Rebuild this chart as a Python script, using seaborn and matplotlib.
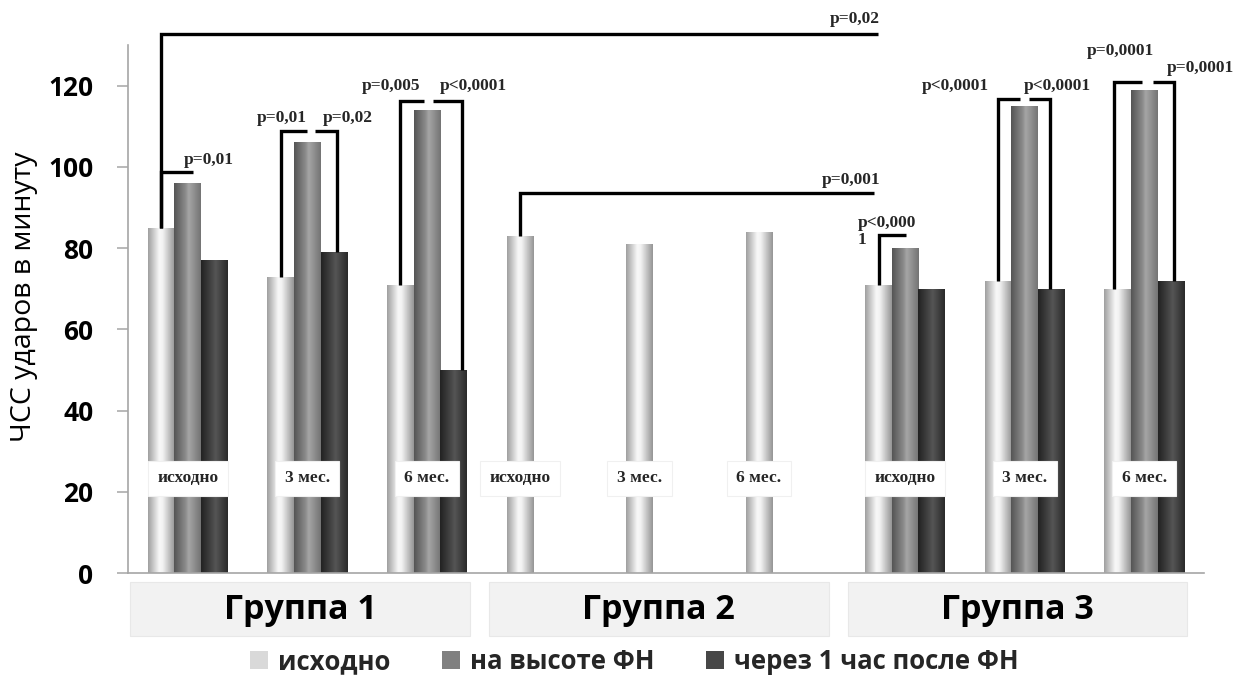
import numpy as np
import pandas as pd
import matplotlib
matplotlib.use("Agg")
import matplotlib.pyplot as plt
import seaborn as sns
from matplotlib.colors import LinearSegmentedColormap
from matplotlib.patches import Rectangle

# ---------------- data ----------------
groups = ["Группа 1", "Группа 2", "Группа 3"]
periods = ["исходно", "3 мес.", "6 мес."]
series = ["исходно", "на высоте ФН", "через 1 час после ФН"]
baseline = [85, 73, 71, 83, 81, 84, 71, 72, 70]
peak = [96, 106, 114, np.nan, np.nan, np.nan, 80, 115, 119]
after = [77, 79, 50, np.nan, np.nan, np.nan, 70, 70, 72]
y_ticks = [0, 20, 40, 60, 80, 100, 120]
y_label = "ЧСС ударов в минуту"
p_labels = ["p=0,02", "p=0,01", "p=0,01", "p=0,02", "p=0,005", "p<0,0001",
            "p=0,001", "p<0,000\n1", "p<0,0001", "p<0,0001", "p=0,0001", "p=0,0001"]

# ---------------- build table ----------------
slots = [f"{g}|{p}" for g in groups for p in periods]
rows = []
for i, s in enumerate(slots):
    for name, vals in zip(series, [baseline, peak, after]):
        if not np.isnan(vals[i]):
            rows.append({"slot": s, "series": name, "value": vals[i]})
df = pd.DataFrame(rows)

sns.set_theme(style="white")
plt.rcParams["font.family"] = ["Open Sans", "DejaVu Sans"]

W, H = 1241, 687
fig = plt.figure(figsize=(W / 100, H / 100), dpi=100)
ax = fig.add_axes([128 / W, 1 - 573 / H, (1204 - 128) / W, (573 - 45) / H])

solid = ["#d9d9d9", "#808080", "#474747"]
sns.barplot(data=df, x="slot", y="value", hue="series", order=slots,
            hue_order=series, palette=solid, width=0.667, gap=0,
            saturation=1, ax=ax, legend=True, linewidth=0)

# gradient shading of bars
grad_stops = [
    ["#a0a0a0", "#f8f8f8", "#f2f2f2", "#969696"],
    ["#555555", "#8a8a8a", "#a6a6a6", "#747474"],
    ["#222222", "#484848", "#555555", "#2a2a2a"],
]
grad = np.linspace(0, 1, 64)[np.newaxis, :]
for cont, stops in zip(ax.containers, grad_stops):
    cmap = LinearSegmentedColormap.from_list("g", list(zip([0, 0.42, 0.55, 1], stops)))
    for bar in cont:
        x0, w, h = bar.get_x(), bar.get_width(), bar.get_height()
        if not np.isfinite(h) or h == 0:
            continue
        im = ax.imshow(grad, extent=[x0, x0 + w, 0, h], aspect="auto", cmap=cmap,
                       zorder=bar.get_zorder() + 0.1, interpolation="bilinear")
        im.set_clip_path(bar)

ax.set_xlim(-0.5, 8.5)
ax.set_ylim(0, 130)
ax.set_aspect("auto")

# axes styling
for side in ["top", "right"]:
    ax.spines[side].set_visible(False)
for side in ["left", "bottom"]:
    ax.spines[side].set_color("#a6a6a6")
    ax.spines[side].set_linewidth(1.2)
ax.set_xticks([])
ax.set_xlabel("")
ax.set_yticks(y_ticks)
ax.set_yticklabels([str(t) for t in y_ticks])
ax.tick_params(axis="y", left=True, length=8, width=1.1, color="#a6a6a6",
               pad=17, labelsize=19, labelcolor="black")
for lbl in ax.get_yticklabels():
    lbl.set_fontweight("bold")
ax.set_ylabel(y_label, fontsize=20.5, color="black", fontweight="medium")
ax.yaxis.set_label_coords(-0.0967, 0.523)
ax.yaxis.label.set_va("center")

# inline period labels
L = -0.222
label_x = [0, 1, 2, 3 + L, 4 + L, 5 + L, 6, 7, 8]
for i, x in enumerate(label_x):
    ax.text(x, 23.3, periods[i % 3], ha="center", va="center", fontsize=12.5,
            fontweight="bold", family="Liberation Serif", zorder=8,
            bbox=dict(boxstyle="square,pad=0.55", fc="white", ec="#f0f0f0", lw=0.8))

# group label boxes below the axis
tr = ax.get_xaxis_transform()
for g, name in enumerate(groups):
    cx = 3 * g + 0.94
    ax.add_patch(Rectangle((cx - 1.42, -0.119), 2.84, 0.102, transform=tr,
                           facecolor="#f2f2f2", edgecolor="#e8e8e8", lw=0.8,
                           clip_on=False, zorder=1))
    ax.text(cx, -0.07, name, transform=tr, ha="center", va="center",
            fontsize=24.5, fontweight="bold", color="black", clip_on=False)

# significance brackets
def bracket(xs, ys):
    ax.plot(xs, ys, color="black", lw=2.4, clip_on=False, zorder=7,
            solid_joinstyle="miter", solid_capstyle="butt")

bracket([L, L, 5.77], [baseline[0], 132.6, 132.6])
bracket([L, L, 0.04], [baseline[0], 98.8, 98.8])
bracket([1 + L, 1 + L, 0.995], [baseline[1], 108.9, 108.9])
bracket([1.06, 1.246, 1.246], [108.9, 108.9, after[1]])
bracket([2 + L, 2 + L, 1.98], [baseline[2], 116.1, 116.1])
bracket([2.05, 2.29, 2.29], [116.1, 116.1, after[2]])
bracket([3 + L, 3 + L, 5.74], [baseline[3], 93.6, 93.6])
bracket([6 + L, 6 + L, 6.01], [baseline[6], 83.3, 83.3])
bracket([7 + L, 7 + L, 6.96], [baseline[7], 116.8, 116.8])
bracket([7.04, 7.21, 7.21], [116.8, 116.8, after[7]])
bracket([7.75, 7.75, 7.98], [baseline[8], 121.0, 121.0])
bracket([8.07, 8.25, 8.25], [121.0, 121.0, after[8]])

p_pos = [(5.79, 136.3, "right"), (-0.03, 101.8, "left"), (0.79, 112.1, "center"),
         (1.34, 112.1, "center"), (1.70, 119.8, "center"), (2.39, 119.8, "center"),
         (5.79, 96.8, "right"), (5.60, 84.1, "left"), (6.42, 119.8, "center"),
         (7.27, 119.8, "center"), (7.80, 128.4, "center"), (8.47, 124.4, "center")]
for txt, (x, y, ha) in zip(p_labels, p_pos):
    ax.text(x, y, txt, ha=ha, va="center", fontsize=12.5, fontweight="bold",
            family="Liberation Serif", clip_on=False, zorder=9, linespacing=1.15)

# legend
sns.move_legend(ax, "center", bbox_to_anchor=(0.511, 0.037),
                bbox_transform=fig.transFigure, ncol=3, frameon=False, title=None,
                prop=dict(family="Open Sans", weight="bold", size=18.5),
                handlelength=0.7, handleheight=0.7, handletextpad=0.4,
                columnspacing=2.0)

fig.savefig("out.png", dpi=100)
